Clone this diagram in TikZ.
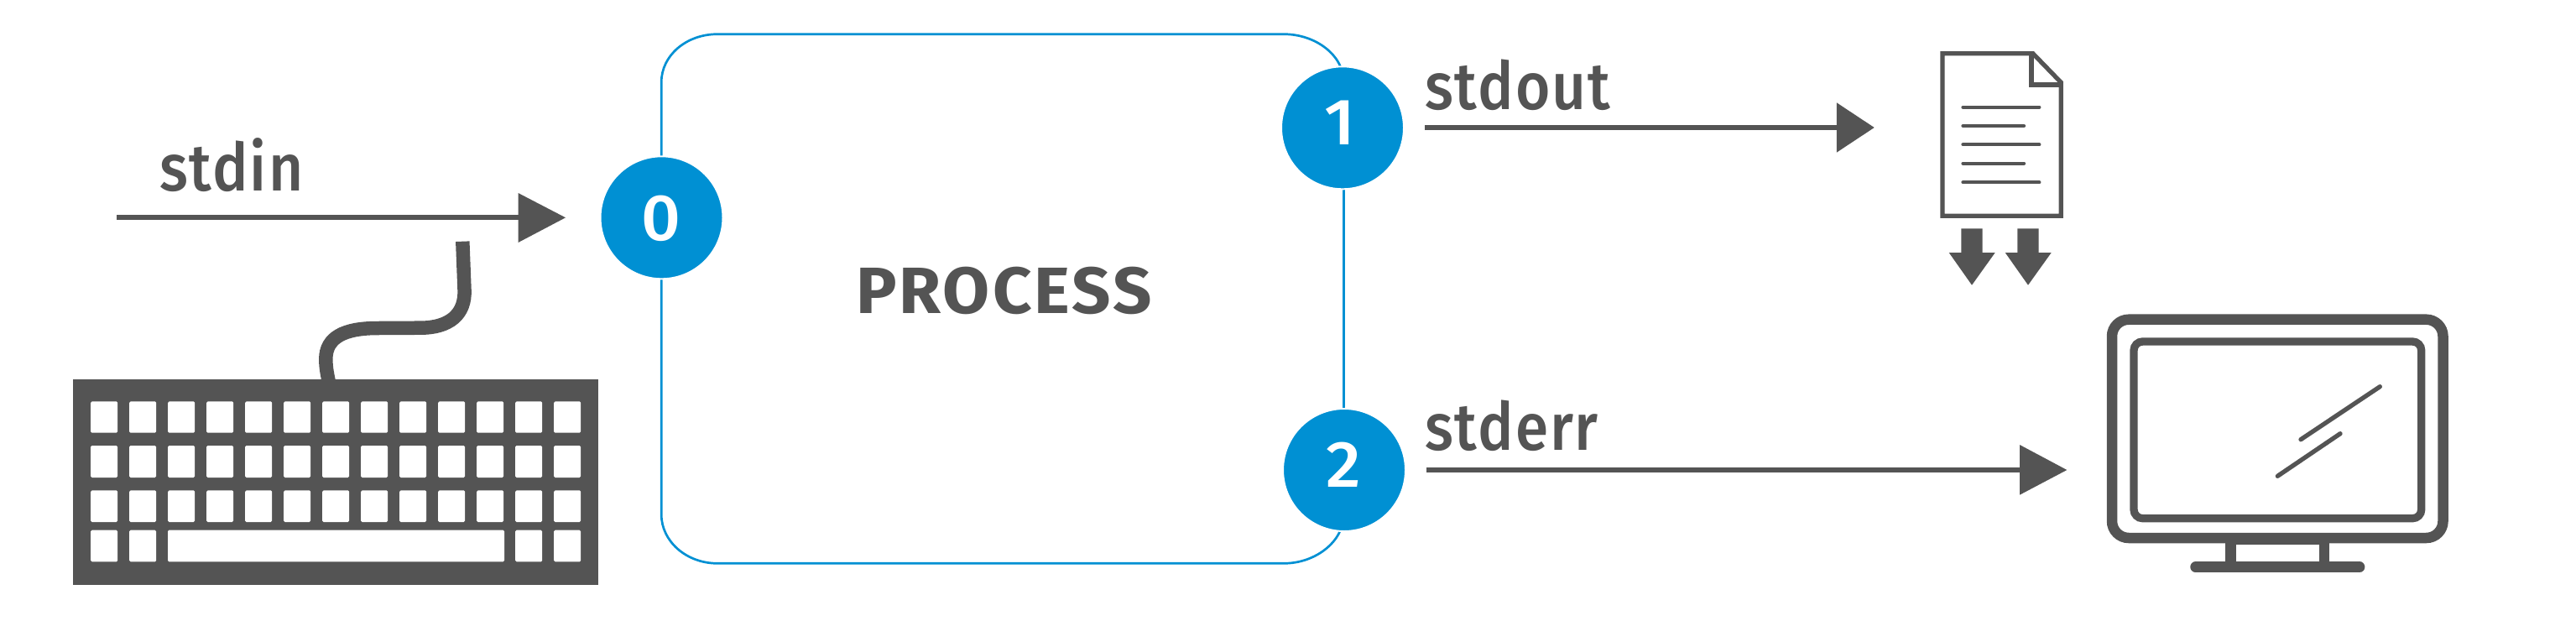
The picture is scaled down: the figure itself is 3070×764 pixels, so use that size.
\documentclass[tikz,border=0pt]{standalone}
\usepackage{fontspec}
\setmainfont{Fira Sans}
\newfontfamily\labelfont[LetterSpace=2.5,FakeStretch=0.9]{Fira Sans Medium}
\newfontfamily\boldlabelfont[LetterSpace=4,FakeStretch=1.04]{Fira Sans Bold}
\newfontfamily\digitfont[Numbers=Lining,FakeStretch=1.05]{Fira Sans Medium}
\definecolor{ink}{HTML}{545454}
\definecolor{portblue}{HTML}{0090D3}
\begin{document}
\begin{tikzpicture}[x=1pt,y=-1pt,
  port/.style={circle,fill=portblue,draw=white,line width=2pt,minimum size=146pt,inner sep=0pt},
  portlabel/.style={text=white,inner sep=0pt,anchor=base,font=\fontsize{78}{78}\digitfont},
  streamlabel/.style={text=ink,inner sep=0pt,anchor=base west,font=\fontsize{79}{79}\labelfont},
  streamline/.style={draw=ink,line width=6.3pt},
  head/.style={fill=ink},
  icon/.style={draw=ink,line join=miter},
  docline/.style={draw=ink,line width=4.3pt,line cap=round},
  glare/.style={draw=ink,line width=5.3pt,line cap=round},
  keycap/.style={fill=white,rounded corners=1.5pt}
]
\useasboundingbox (0,0) rectangle (3070,764);
% process box
\draw[portblue,line width=2.7pt] (855,40.7) -- (1530,40.7)
  .. controls (1568,40.7) and (1601.5,66) .. (1601.5,98)
  -- (1601.5,613)
  .. controls (1601.5,645) and (1568,671.3) .. (1530,671.3)
  -- (855,671.3)
  .. controls (818,671.3) and (788.2,645) .. (788.2,613)
  -- (788.2,98)
  .. controls (788.2,66) and (818,40.7) .. (855,40.7) -- cycle;
\node[port] (p0) at (788.5,259.3) {};
\node[port] (p1) at (1600,152.3) {};
\node[port] (p2) at (1602,560) {};
\node[portlabel] (d0) at (787.7,286.5) {0};
\node[portlabel] (d1) at (1597,172.3) {1};
\node[portlabel] (d2) at (1601,580) {2};
\node[text=ink,inner sep=0pt,anchor=base,font=\fontsize{78}{78}\boldlabelfont] (proc) at (1196.5,373) {PROCESS};
% stream arrows
\coordinate (inS) at (139,259.3); \coordinate (inE) at (620,259.3);
\coordinate (outS) at (1698,152); \coordinate (outE) at (2192,152);
\coordinate (errS) at (1700,560); \coordinate (errE) at (2410,560);
\draw[streamline] (inS) -- (inE);
\draw[streamline] (outS) -- (outE);
\draw[streamline] (errS) -- (errE);
\fill[head] (617.6,230) -- (674,259.3) -- (617.6,289) -- cycle;
\fill[head] (2188.8,122.3) -- (2233.7,152) -- (2188.8,181.7) -- cycle;
\fill[head] (2407,530) -- (2463.3,560) -- (2407,589.7) -- cycle;
\node[streamlabel] (lin) at (190,227.7) {stdin};
\node[streamlabel] (lout) at (1698,130) {stdout};
\node[streamlabel] (lerr) at (1698,536) {stderr};
% keyboard
\fill[ink] (87.1,452.3) rectangle (712.9,697.3);
\draw[ink,line width=16.5pt] (551.3,287.7) -- (553.5,345)
  .. controls (555,375) and (535,390.7) .. (500.8,390.7)
  -- (450.3,391)
  .. controls (410,391) and (388.3,402) .. (388.3,428)
  .. controls (388.3,438) and (390,446) .. (392.5,458);
\foreach \r/\a/\b in {0/478.3/515.7,1/531/569,2/584.3/622}{
  \foreach \c in {0,...,12}{
    \fill[keycap] ({108.2+46*\c},\a) rectangle ({140.2+46*\c},\b);
  }
}
\foreach \c in {0,1,11,12}{
  \fill[keycap] ({108.2+46*\c},631.7) rectangle ({140.2+46*\c},669.3);
}
\fill[keycap] (200,631.7) rectangle (601,669.3);
% document
\draw[icon,line width=5.3pt] (2315,63.7) -- (2422.7,63.7) -- (2456.3,98.3) -- (2456.3,257.3) -- (2315,257.3) -- cycle;
\draw[icon,line width=5.3pt] (2421,63.7) -- (2421,101) -- (2456.3,101);
\foreach \y/\e in {127.7/2432.3,150/2414,172.3/2432.3,194.7/2414,217.3/2432.3}{
  \draw[docline] (2339.5,\y) -- (\e-2,\y);
}
\fill[ink] (2337.3,272.3) -- (2362.7,272.3) -- (2362.7,301) -- (2377.7,301) -- (2350,339.7) -- (2322.7,301) -- (2337.3,301) -- cycle;
\fill[ink] (2404.3,272.3) -- (2429.7,272.3) -- (2429.7,301) -- (2444.7,301) -- (2417,339.7) -- (2389.7,301) -- (2404.3,301) -- cycle;
% monitor
\draw[ink,line width=12.5pt,rounded corners=20pt] (2517,380.7) rectangle (2911.5,641);
\draw[ink,line width=9.3pt,rounded corners=10.5pt] (2543,407) rectangle (2885.7,617.7);
\fill[ink] (2652.3,645) rectangle (2776.3,649.3);
\fill[ink] (2652.3,645) rectangle (2665,672);
\fill[ink] (2763.7,645) rectangle (2776.3,672);
\draw[ink,line width=12.7pt,line cap=round] (2616.6,675.7) -- (2812,675.7);
\draw[glare] (2742,523.7) -- (2836.3,460.7);
\draw[glare] (2714.3,567.3) -- (2789,516.7);
\end{tikzpicture}
\end{document}
